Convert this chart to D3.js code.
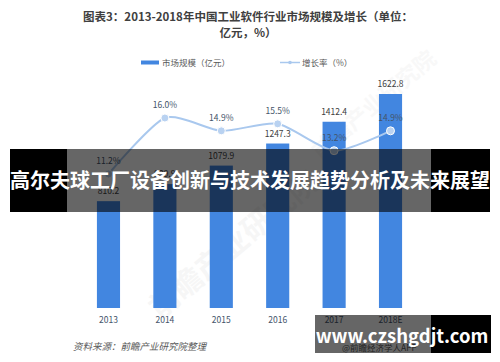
<!DOCTYPE html>
<html>
<head>
<meta charset="utf-8">
<script src="https://cdn.jsdelivr.net/npm/d3@7"></script>
<style>
body { margin: 0; background: #fff; }
text { font-family: "Noto Sans CJK SC", "Noto Sans", sans-serif; }
</style>
</head>
<body>
<svg id="chart" width="500" height="362"></svg>
<script>
// data
var years = ["2013", "2014", "2015", "2016", "2017", "2018E"];
var marketSize = [810.2, 939.9, 1079.9, 1247.3, 1412.4, 1622.8];
var growthRate = [11.2, 16.0, 14.9, 15.5, 13.2, 14.9];

var svg = d3.select("#chart");

var x = d3.scaleBand().domain(years).range([80, 419]).paddingInner(0.59).paddingOuter(0.3);
var y = d3.scaleLinear().domain([0, 1622.8]).range([308, 94]);
var y2 = d3.scaleLinear().domain([0, 16]).range([304.7, 118]);

// title
svg.append("text").attr("x", 248).attr("y", 21).attr("text-anchor", "middle")
    .attr("font-size", 11.5).attr("font-weight", "bold").attr("fill", "#404040")
    .text("图表3：2013-2018年中国工业软件行业市场规模及增长（单位：");
svg.append("text").attr("x", 248).attr("y", 37).attr("text-anchor", "middle")
    .attr("font-size", 11.5).attr("font-weight", "bold").attr("fill", "#404040")
    .text("亿元，%）");

// legend
svg.append("rect").attr("x", 141).attr("y", 60.5).attr("width", 18).attr("height", 4).attr("fill", "#4286e0");
svg.append("text").attr("x", 162).attr("y", 66).attr("font-size", 8.5).attr("fill", "#595959").text("市场规模（亿元）");
svg.append("line").attr("x1", 280).attr("x2", 300).attr("y1", 62.5).attr("y2", 62.5)
    .attr("stroke", "#a9c8ee").attr("stroke-width", 1.5);
svg.append("circle").attr("cx", 290).attr("cy", 62.5).attr("r", 1.8).attr("fill", "#a9c8ee");
svg.append("text").attr("x", 302).attr("y", 66).attr("font-size", 8.5).attr("fill", "#595959").text("增长率（%）");

// faint watermark
svg.append("text").attr("transform", "translate(160,320) rotate(-40)")
    .attr("font-size", 30).attr("font-weight", "bold").attr("fill", "#000").attr("opacity", 0.03)
    .text("前瞻产业研究院");
svg.append("text").attr("transform", "translate(320,160) rotate(-40)")
    .attr("font-size", 22).attr("font-weight", "bold").attr("fill", "#000").attr("opacity", 0.025)
    .text("前瞻产业研究院");

// bars
svg.selectAll(".bar").data(years).enter().append("rect")
    .attr("x", function(d) { return x(d); })
    .attr("y", function(d, i) { return y(marketSize[i]); })
    .attr("width", x.bandwidth())
    .attr("height", function(d, i) { return y(0) - y(marketSize[i]); })
    .attr("fill", "#4286e0");

svg.selectAll(".barlab").data(years).enter().append("text")
    .attr("x", function(d) { return x(d) + x.bandwidth() / 2; })
    .attr("y", function(d, i) { return y(marketSize[i]) - 7; })
    .attr("text-anchor", "middle").attr("font-size", 8.5).attr("fill", "#404040")
    .text(function(d, i) { return marketSize[i].toFixed(1); });

// x labels
svg.selectAll(".xlab").data(years).enter().append("text")
    .attr("x", function(d) { return x(d) + x.bandwidth() / 2; })
    .attr("y", 323)
    .attr("text-anchor", "middle").attr("font-size", 8.5).attr("fill", "#44546a")
    .text(function(d) { return d; });

// growth line
var line = d3.line()
    .x(function(d, i) { return x(years[i]) + x.bandwidth() / 2; })
    .y(function(d) { return y2(d); })
    .curve(d3.curveCardinal.tension(0.3));

svg.append("path").datum(growthRate).attr("d", line)
    .attr("fill", "none").attr("stroke", "#a9c8ee").attr("stroke-width", 2);

svg.selectAll(".pt").data(growthRate).enter().append("circle")
    .attr("cx", function(d, i) { return x(years[i]) + x.bandwidth() / 2; })
    .attr("cy", function(d) { return y2(d); })
    .attr("r", 4).attr("fill", "#b9d2f1").attr("stroke", "#fff").attr("stroke-width", 1);

svg.selectAll(".ptlab").data(growthRate).enter().append("text")
    .attr("x", function(d, i) { return x(years[i]) + x.bandwidth() / 2; })
    .attr("y", function(d) { return y2(d) - 10; })
    .attr("text-anchor", "middle").attr("font-size", 8.5).attr("fill", "#44546a")
    .text(function(d) { return d.toFixed(1) + "%"; });

// source
svg.append("text").attr("x", 73).attr("y", 350).attr("font-size", 9.5).attr("font-style", "italic")
    .attr("fill", "#595959").text("资料来源：前瞻产业研究院整理");
svg.append("text").attr("x", 342).attr("y", 351).attr("font-size", 8.5)
    .attr("fill", "#595959").text("@前瞻经济学人APP");

// overlay band: opaque black ends, translucent middle
svg.append("rect").attr("x", 10).attr("y", 149).attr("width", 57).attr("height", 63).attr("fill", "#000");
svg.append("rect").attr("x", 431).attr("y", 149).attr("width", 59).attr("height", 63).attr("fill", "#000");
svg.append("rect").attr("x", 67).attr("y", 149).attr("width", 364).attr("height", 63).attr("fill", "#000").attr("opacity", 0.6);
svg.append("text").attr("x", 250).attr("y", 188).attr("text-anchor", "middle")
    .attr("font-size", 20).attr("font-weight", "bold").attr("fill", "#fff")
    .text("高尔夫球工厂设备创新与技术发展趋势分析及未来展望");

// url box
svg.append("rect").attr("x", 315).attr("y", 315).attr("width", 116).attr("height", 38).attr("fill", "#000").attr("opacity", 0.6);
svg.append("rect").attr("x", 431).attr("y", 315).attr("width", 60).attr("height", 38).attr("fill", "#000");
svg.append("text").attr("x", 402).attr("y", 343).attr("text-anchor", "middle")
    .attr("font-size", 18.5).attr("font-weight", "bold").attr("fill", "#fff")
    .text("www.czshgdjt.com");
</script>
</body>
</html>
